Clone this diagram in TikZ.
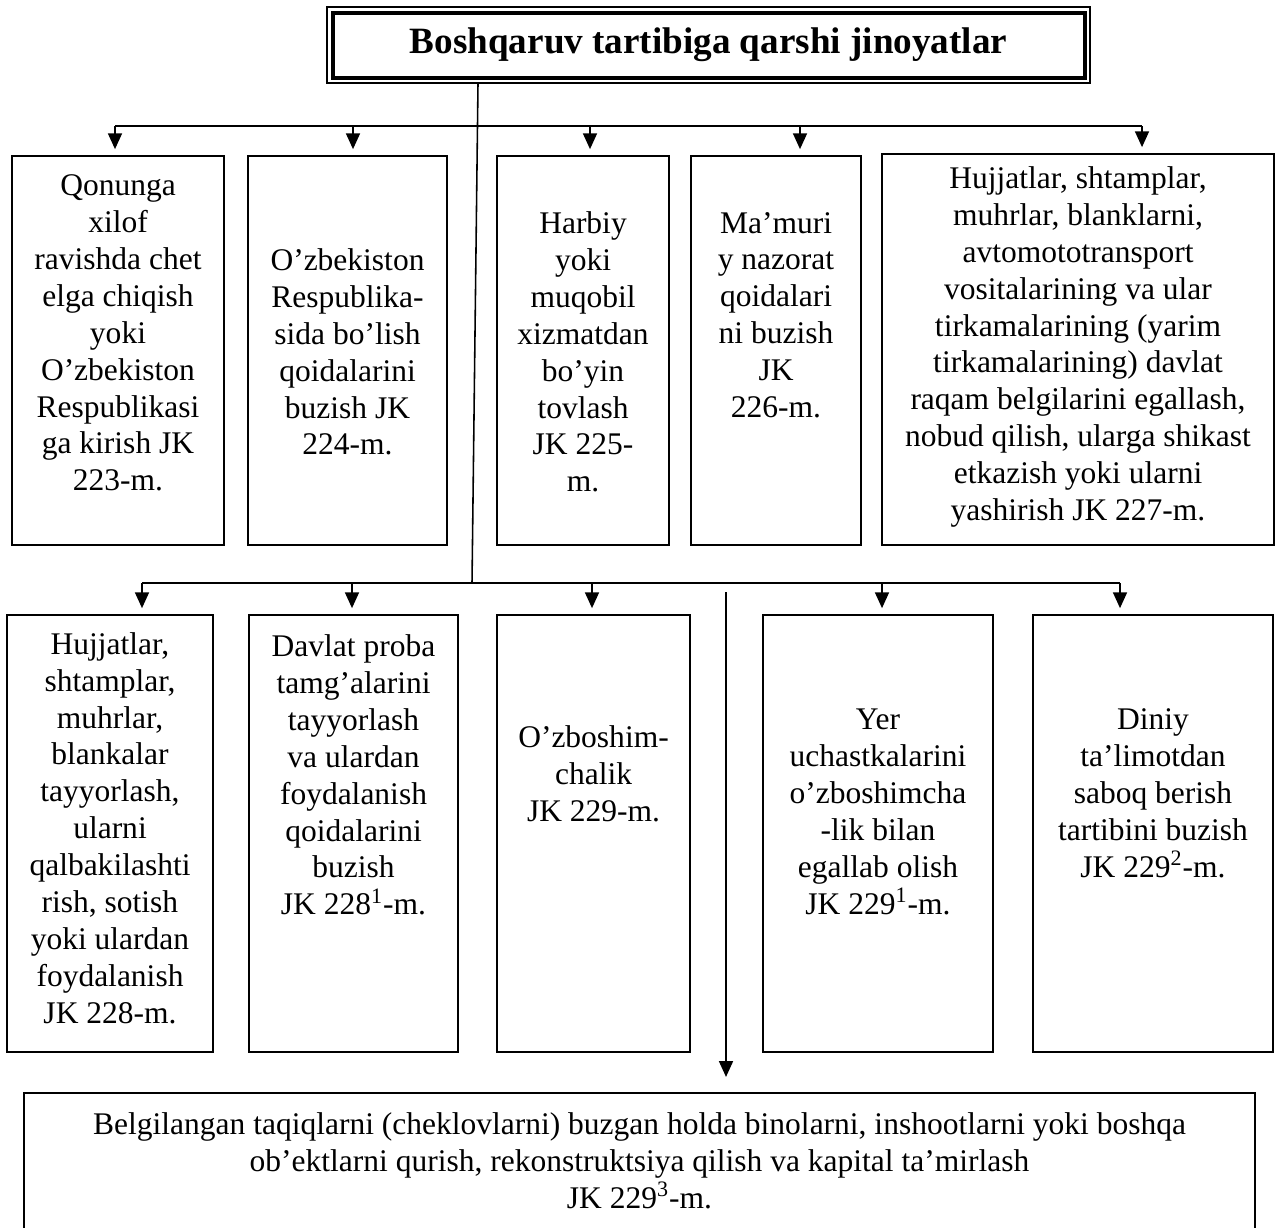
\documentclass[tikz,border=0pt]{standalone}
\usepackage{fontspec}
\setmainfont{Liberation Serif}
\usetikzlibrary{arrows.meta,fit}

\begin{document}
\begin{tikzpicture}[x=0.4444pt,y=-0.4444pt,
  box/.style={draw,line width=0.9pt,inner sep=0pt},
  txt/.style={align=center,inner sep=0pt,font=\fontsize{14}{16.4}\selectfont},
  link/.style={line width=0.7pt},
  arr/.style={line width=0.7pt,-{Triangle[width=6.2pt,length=7pt]},shorten >=2.6pt}]
\useasboundingbox (0,0) rectangle (1277,1227);

% Title with double frame
\node[draw,line width=0.6pt,inner sep=0pt,fit={(327,7) (1090,83)}] (frame) {};
\node[draw,line width=1.4pt,inner sep=0pt,fit={(333,13) (1085,78)}] (inner) {};
\node[font=\bfseries\fontsize{16.5}{19}\selectfont,inner sep=0pt] (title) at (frame.center) {Boshqaruv tartibiga qarshi jinoyatlar};

% First row
\node[box,fit={(12,156) (224,545)}] (a1) {};
\node[box,fit={(248,156) (447,545)}] (a2) {};
\node[box,fit={(497,156) (669,545)}] (a3) {};
\node[box,fit={(691,156) (861,545)}] (a4) {};
\node[box,fit={(882,154) (1274,545)}] (a5) {};

\node[txt] (ta1) at (a1.center |- 0,333) {Qonunga\\xilof\\ravishda chet\\elga chiqish\\yoki\\O’zbekiston\\Respublikasi\\ga kirish JK\\223-m.};
\node[txt] (ta2) at (a2.center |- 0,352) {O’zbekiston\\Respublika-\\sida bo’lish\\qoidalarini\\buzish JK\\224-m.};
\node[txt] (ta3) at (a3.center |- 0,352) {Harbiy\\yoki\\muqobil\\xizmatdan\\bo’yin\\tovlash\\JK 225-\\m.};
\node[txt] (ta4) at (a4.center |- 0,315) {Ma’muri\\y nazorat\\qoidalari\\ni buzish\\JK\\226-m.};
\node[txt] (ta5) at (a5.center |- 0,347) {Hujjatlar, shtamplar,\\muhrlar, blanklarni,\\avtomototransport\\vositalarining va ular\\tirkamalarining (yarim\\tirkamalarining) davlat\\raqam belgilarini egallash,\\nobud qilish, ularga shikast\\etkazish yoki ularni\\yashirish JK 227-m.};

% Second row
\node[box,fit={(7,615) (213,1052)}] (b1) {};
\node[box,fit={(249,615) (458,1052)}] (b2) {};
\node[box,fit={(497,615) (690,1052)}] (b3) {};
\node[box,fit={(763,615) (993,1052)}] (b4) {};
\node[box,fit={(1033,615) (1273,1052)}] (b5) {};

\node[txt] (tb1) at (b1.center |- 0,828) {Hujjatlar,\\shtamplar,\\muhrlar,\\blankalar\\tayyorlash,\\ularni\\qalbakilashti\\rish, sotish\\yoki ulardan\\foydalanish\\JK 228-m.};
\node[txt] (tb2) at (b2.center |- 0,775) {Davlat proba\\tamg’alarini\\tayyorlash\\va ulardan\\foydalanish\\qoidalarini\\buzish\\JK 228\textsuperscript{1}-m.};
\node[txt] (tb3) at (b3.center |- 0,774) {O’zboshim-\\chalik\\JK 229-m.};
\node[txt] (tb4) at (b4.center |- 0,812) {Yer\\uchastkalarini\\o’zboshimcha\\-lik bilan\\egallab olish\\JK 229\textsuperscript{1}-m.};
\node[txt] (tb5) at (b5.center |- 0,793) {Diniy\\ta’limotdan\\saboq berish\\tartibini buzish\\JK 229\textsuperscript{2}-m.};

% Bottom box (runs off the page)
\node[box,fit={(24,1093) (1255,1240)}] (c) {};
\node[txt] (tc) at (c.center |- 0,1161) {Belgilangan taqiqlarni (cheklovlarni) buzgan holda binolarni, inshootlarni yoki boshqa\\ob’ektlarni qurish, rekonstruktsiya qilish va kapital ta’mirlash\\JK 229\textsuperscript{3}-m.};

% Trunk and buses
\coordinate (t0) at (478,83);
\coordinate (j2) at (472,583);
\draw[link] (t0) -- (j2);
\draw[link] (115,126) -- (1142,126);
\draw[link] (142,583) -- (1120,583);

% Arrows
\foreach \x/\b in {115/a1,353/a2,590/a3,800/a4,1142/a5}
  \draw[arr] (\x,126) -- (\x,126 |- \b.north);
\foreach \x/\b in {142/b1,352/b2,592/b3,882/b4,1120/b5}
  \draw[arr] (\x,583) -- (\x,583 |- \b.north);
\draw[arr,shorten >=6.7pt] (726,592) -- (726,592 |- c.north);

\end{tikzpicture}
\end{document}
